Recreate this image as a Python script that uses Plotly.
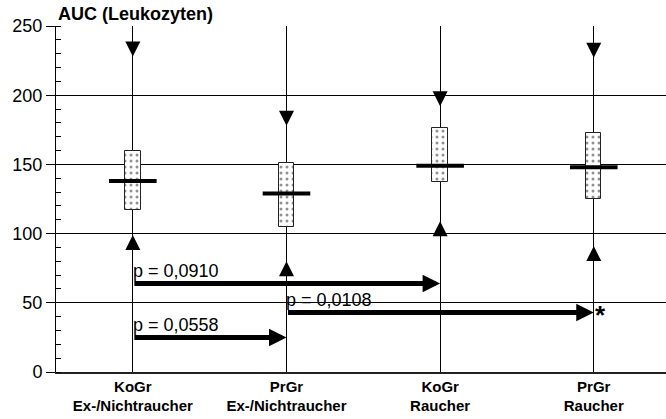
import plotly.graph_objects as go

categories = ["KoGr<br>Ex-/Nichtraucher", "PrGr<br>Ex-/Nichtraucher", "KoGr<br>Raucher", "PrGr<br>Raucher"]
q1 = [117, 105, 137, 125]
q3 = [160, 151, 176, 173]
median = [138, 129, 149, 148]
upper_tip = [228, 178, 192, 227]
lower_tip = [99, 80, 109, 91]

cmp_from = [0, 0, 1]
cmp_to = [2, 1, 3]
cmp_y = [64, 25, 43]
cmp_p = ["p = 0,0910", "p = 0,0558", "p = 0,0108"]
cmp_mark = ["", "", "*"]

y_ticks = [0, 50, 100, 150, 200, 250]
y_max = 250
title_text = "AUC (Leukozyten)"

xs = list(range(len(categories)))
FONT = "Liberation Sans, Arial, Helvetica, sans-serif"
NARROW = "Liberation Sans Narrow, Arial Narrow, Liberation Sans, sans-serif"

fig = go.Figure()
fig.add_trace(go.Bar(
    x=xs, y=[b - a for a, b in zip(q1, q3)], base=q1, width=0.1,
    marker=dict(color="white", line=dict(color="#222", width=1),
                pattern=dict(shape=".", fgcolor="#222", bgcolor="white", size=6, solidity=0.2)),
    showlegend=False, hoverinfo="skip"))
fig.add_trace(go.Scatter(
    x=xs, y=median, mode="markers",
    marker=dict(symbol="line-ew", size=34, line=dict(color="black", width=4)),
    showlegend=False))
fig.add_trace(go.Scatter(
    x=xs, y=upper_tip, mode="markers",
    marker=dict(symbol="arrow-down", size=15, color="black", line=dict(width=0)),
    showlegend=False))
fig.add_trace(go.Scatter(
    x=xs, y=lower_tip, mode="markers",
    marker=dict(symbol="arrow-up", size=15, color="black", line=dict(width=0)),
    showlegend=False))

for f, t, yv, p, m in zip(cmp_from, cmp_to, cmp_y, cmp_p, cmp_mark):
    fig.add_annotation(x=t, y=yv, ax=f, ay=yv, axref="x", ayref="y", xref="x", yref="y",
                       showarrow=True, arrowhead=2, arrowsize=0.7, arrowwidth=5,
                       arrowcolor="black", standoff=0, startstandoff=0, text="")
    fig.add_annotation(x=f, y=yv, xref="x", yref="y", text=p, showarrow=False,
                       xanchor="left", yanchor="bottom", yshift=0, xshift=-2,
                       font=dict(family=FONT, size=18, color="black"))
    if m:
        fig.add_annotation(x=t, y=yv, xref="x", yref="y", text="<b>" + m + "</b>", showarrow=False,
                           xanchor="left", yanchor="middle", xshift=-1, yshift=-3,
                           font=dict(family=FONT, size=26, color="black"))

fig.add_annotation(x=0, y=1, xref="paper", yref="paper", text="<b>" + title_text + "</b>",
                   showarrow=False, xanchor="left", yanchor="bottom", yshift=0,
                   font=dict(family=FONT, size=18, color="black"))

# hide the grid line at the top edge (reference shows only its tick)
fig.add_shape(type="line", xref="paper", yref="y", x0=0, x1=1, y0=y_max, y1=y_max,
              line=dict(color="white", width=2), layer="below")

fig.update_layout(
    width=666, height=419,
    margin=dict(l=56, r=0, t=26, b=47),
    paper_bgcolor="white", plot_bgcolor="white",
    bargap=0,
    xaxis=dict(range=[-0.5, 3.47], tickvals=xs, ticktext=["<b>" + c + "</b>" for c in categories],
               showgrid=True, gridcolor="black", gridwidth=1, zeroline=False,
               showline=True, linecolor="#222", linewidth=1.5, ticks="",
               tickfont=dict(family=NARROW, size=15, color="black")),
    yaxis=dict(range=[0, y_max], tickvals=y_ticks, showgrid=True, gridcolor="black", gridwidth=1,
               zeroline=False, showline=True, linecolor="black", linewidth=1,
               ticks="outside", ticklen=9, tickcolor="black",
               tickfont=dict(family=FONT, size=18, color="black"),
               minor=dict(dtick=10, ticks="inside", ticklen=5, tickcolor="black", showgrid=False)),
)

fig.write_html("out.html", config={"displayModeBar": False},
               post_script="document.body.style.margin='0';")
